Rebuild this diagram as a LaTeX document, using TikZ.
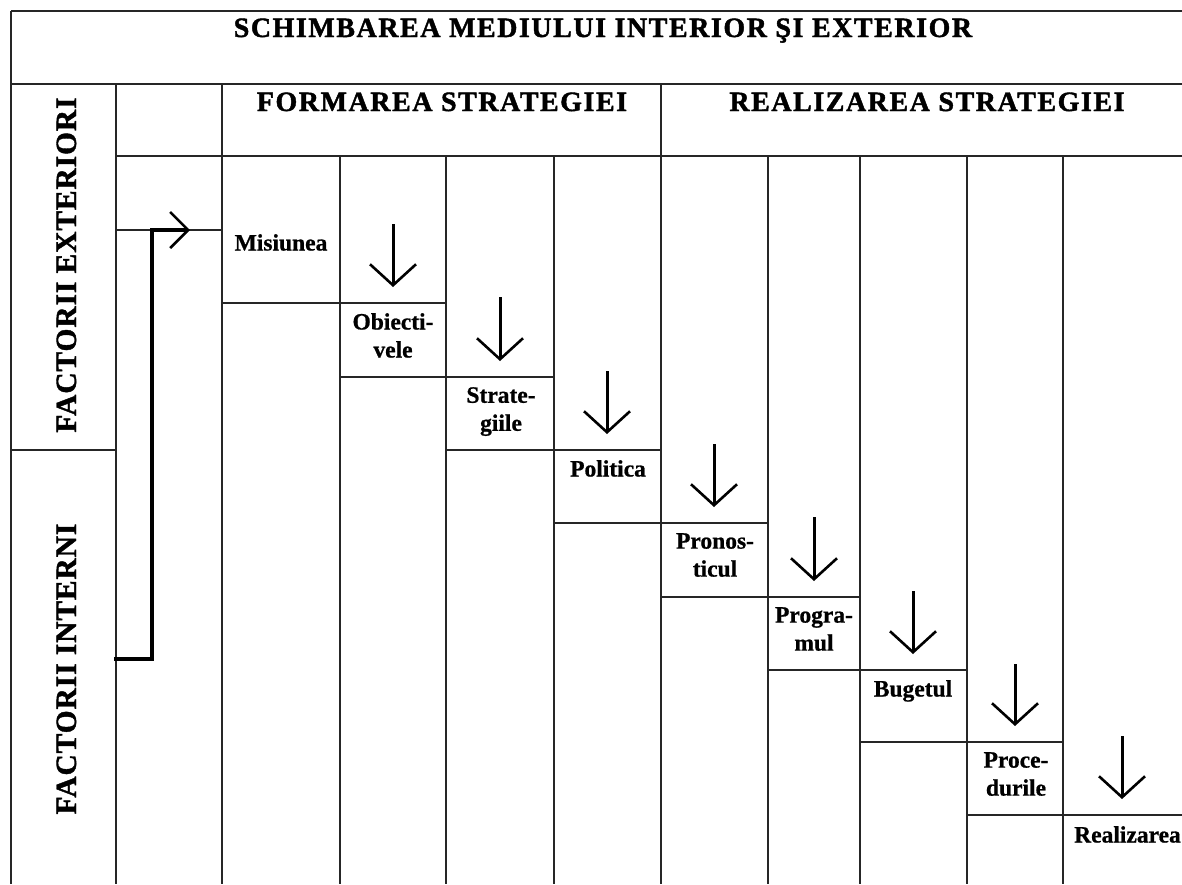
\documentclass[tikz,border=0pt]{standalone}
\usepackage{fontspec}
\setmainfont{Liberation Serif}
\newfontfamily\hdrfont[LetterSpace=5.5,BoldFeatures={FakeBold=1.5}]{Liberation Serif}
\newfontfamily\vertfont[LetterSpace=3,BoldFeatures={FakeBold=1.3}]{Liberation Serif}
\newfontfamily\lblfont[BoldFeatures={FakeBold=0.8}]{Liberation Serif}
\usetikzlibrary{arrows.meta}
\begin{document}
\begin{tikzpicture}[x=1pt,y=-1pt,
  gridline/.style={line width=1.6pt, black!85},
  hdr/.style={font={\hdrfont\bfseries\fontsize{28}{30}\selectfont}, inner sep=0pt, anchor=base},
  vlabel/.style={font={\vertfont\bfseries\fontsize{29.5}{32}\selectfont}, inner sep=0pt, anchor=base, rotate=90},
  steplabel/.style={font={\lblfont\bfseries\fontsize{23.5}{28}\selectfont}, inner sep=0pt, anchor=north, align=center},
  steparrow/.style={line width=3pt, -{Straight Barb[length=21pt,width=46pt,line width=2.6pt]}},
  conn/.style={line width=3.4pt, -{Straight Barb[length=18pt,width=36pt,line width=2.6pt]}}]
\useasboundingbox (0,0) rectangle (1182,884);
\fill[white] (0,0) rectangle (1182,884);

% ---- grid ----
\draw[gridline] (11,11) -- (1182,11);
\draw[gridline] (11,84) -- (1182,84);
\draw[gridline] (116,156) -- (1182,156);
\draw[gridline] (11,11) -- (11,884);
\draw[gridline] (116,84) -- (116,884);
\draw[gridline] (222,84) -- (222,884);
\draw[gridline] (661,84) -- (661,884);
\foreach \xx in {340,446,554,768,860,967,1063}
  \draw[gridline] (\xx,156) -- (\xx,884);
\draw[gridline] (11,450) -- (116,450);
\draw[gridline] (116,230) -- (222,230);

% ---- step lines: at y_{k+1} from c_k to c_{k+2} ----
\draw[gridline] (222,303) -- (446,303);
\draw[gridline] (340,377) -- (554,377);
\draw[gridline] (446,450) -- (661,450);
\draw[gridline] (554,523) -- (768,523);
\draw[gridline] (661,597) -- (860,597);
\draw[gridline] (768,670) -- (967,670);
\draw[gridline] (860,742) -- (1063,742);
\draw[gridline] (967,815) -- (1182,815);

% ---- headers ----
\node[hdr] (title) at (603,37) {SCHIMBAREA MEDIULUI INTERIOR ŞI EXTERIOR};
\node[hdr] (form) at (442,111) {FORMAREA STRATEGIEI};
\node[hdr] (real) at (927,111) {REALIZAREA STRATEGIEI};
\node[vlabel] (fext) at (76,265) {FACTORII EXTERIORI};
\node[vlabel] (fint) at (76,669) {FACTORII INTERNI};

% ---- step labels ----
\node[steplabel] (s0) at (281,234) {Misiunea};
\node[steplabel] (s1) at (393,313) {Obiecti-\\vele};
\node[steplabel] (s2) at (501,387) {Strate-\\giile};
\node[steplabel] (s3) at (608,460) {Politica};
\node[steplabel] (s4) at (715,533) {Pronos-\\ticul};
\node[steplabel] (s5) at (814,607) {Progra-\\mul};
\node[steplabel] (s6) at (913,680) {Bugetul};
\node[steplabel] (s7) at (1016,752) {Proce-\\durile};
\node[steplabel, anchor=north west] (s8) at (1074,826) {Realizarea};

% ---- step arrows ----
\foreach \i/\cx/\ya/\yb in {1/393/224/287, 2/500/297/361, 3/607/371/434, 4/714/444/507, 5/814/517/581, 6/913/591/654, 7/1015/664/726, 8/1122/736/799}{
  \coordinate (aT\i) at (\cx,\ya);
  \coordinate (aB\i) at (\cx,\yb);
}
\foreach \i in {1,...,8}
  \draw[steparrow] (aT\i) -- (aB\i);

% ---- feedback connector ----
\coordinate (inB) at (114,659);
\coordinate (exT) at (190,230);
\draw[conn] (inB) -- (152,659) |- (exT);
\end{tikzpicture}
\end{document}
